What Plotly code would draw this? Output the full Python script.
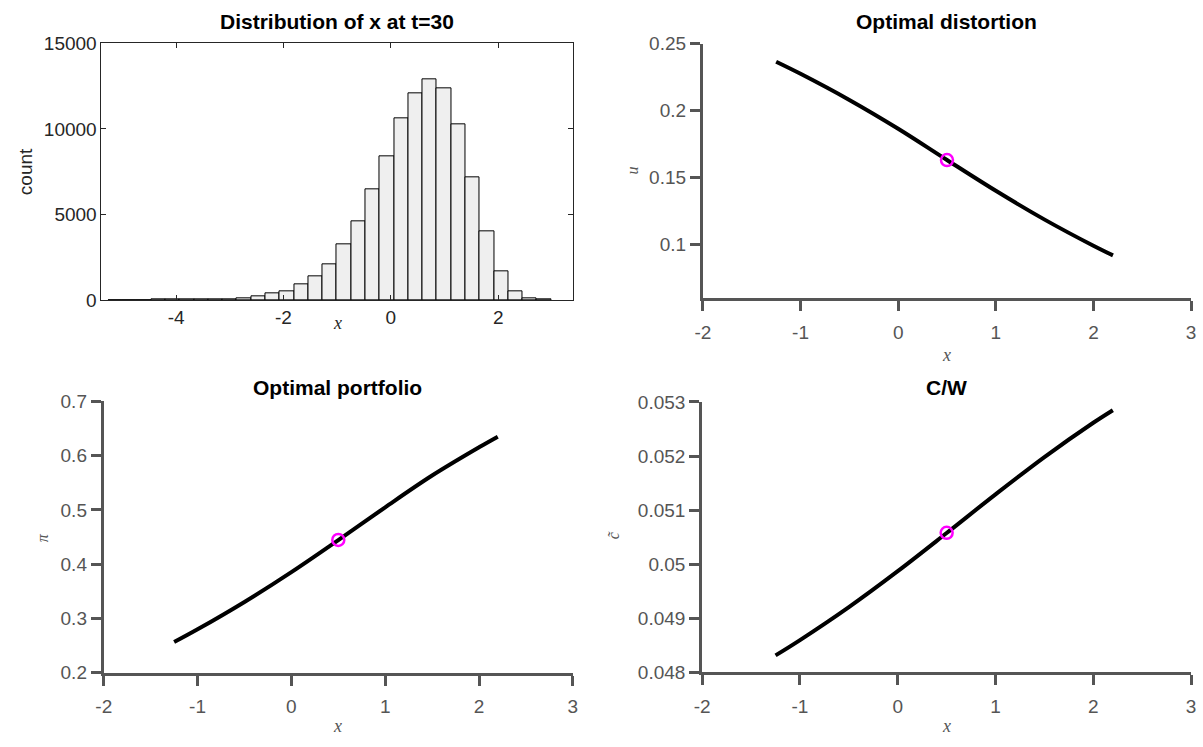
import plotly.graph_objects as go

# ---------------- data ----------------
# histogram of x at t=30 (31 bins)
bin_left = -5.263
bin_width = 0.2661
hist_counts = [1, 2, 3, 5, 8, 15, 25, 40, 57, 114, 227, 358, 528, 909, 1364,
               2080, 3236, 4580, 6477, 8369, 10625, 12063, 12915, 12347, 10264,
               7176, 4034, 1665, 511, 114, 15]
hist_yticks = [0, 5000, 10000, 15000]
hist_xticks = [-4, -2, 0, 2]

# policy functions on the x grid
x_grid = [-1.25, -1.0, -0.5, 0.0, 0.5, 1.0, 1.5, 2.0, 2.2]
u_vals = [0.2366, 0.2276, 0.2081, 0.1866, 0.1633, 0.1403, 0.1188, 0.0993, 0.0921]
pi_vals = [0.2563, 0.2798, 0.3303, 0.3853, 0.4443, 0.5048, 0.5633, 0.6153, 0.6349]
c_vals = [0.048313, 0.048596, 0.049206, 0.049871, 0.050576, 0.051291, 0.051981, 0.052616, 0.052848]

# current state marker
x_star = 0.5
u_star = 0.1632
pi_star = 0.4447
c_star = 0.05058

curve_xticks = [-2, -1, 0, 1, 2, 3]
u_ticks = [0.1, 0.15, 0.2, 0.25]
pi_ticks = [0.2, 0.3, 0.4, 0.5, 0.6, 0.7]
c_ticks = [0.048, 0.049, 0.05, 0.051, 0.052, 0.053]

W, H = 1203, 747


def px(xp):
    return xp / W


def py(yp):
    return 1 - yp / H


def lab(v):
    return ("%g" % v)


hist_centers = [bin_left + (i + 0.5) * bin_width for i in range(len(hist_counts))]

fig = go.Figure()

# ---------- histogram ----------
fig.add_trace(go.Bar(x=hist_centers, y=hist_counts, width=bin_width,
                     marker=dict(color="#efefef", line=dict(color="#000000", width=1)),
                     xaxis="x", yaxis="y", showlegend=False))

# ---------- curves ----------
line_style = dict(color="black", width=4, shape="spline")
mk = dict(symbol="circle-open", size=12, color="#ff00ff", line=dict(width=2.5, color="#ff00ff"))

fig.add_trace(go.Scatter(x=x_grid, y=u_vals, mode="lines", line=line_style,
                         xaxis="x2", yaxis="y2", showlegend=False))
fig.add_trace(go.Scatter(x=[x_star], y=[u_star], mode="markers", marker=mk,
                         xaxis="x2", yaxis="y2", showlegend=False))

fig.add_trace(go.Scatter(x=x_grid, y=pi_vals, mode="lines", line=line_style,
                         xaxis="x3", yaxis="y3", showlegend=False))
fig.add_trace(go.Scatter(x=[x_star], y=[pi_star], mode="markers", marker=mk,
                         xaxis="x3", yaxis="y3", showlegend=False))

fig.add_trace(go.Scatter(x=x_grid, y=c_vals, mode="lines", line=line_style,
                         xaxis="x4", yaxis="y4", showlegend=False))
fig.add_trace(go.Scatter(x=[x_star], y=[c_star], mode="markers", marker=mk,
                         xaxis="x4", yaxis="y4", showlegend=False))

TICKFONT = dict(family="Liberation Sans, Arial, sans-serif", size=19, color="#555555")
HFONT = dict(family="Liberation Sans, Arial, sans-serif", size=19, color="#262626")

box_axis = dict(showline=True, linecolor="#262626", linewidth=1, mirror="ticks",
                ticks="inside", ticklen=5, tickwidth=1, tickcolor="#262626",
                showgrid=False, zeroline=False, tickfont=HFONT)

thick_axis = dict(showline=True, linecolor="#555555", linewidth=3, mirror=False,
                  ticks="outside", ticklen=10, tickwidth=3, tickcolor="#555555",
                  showgrid=False, zeroline=False, tickfont=TICKFONT)

fig.update_layout(
    width=W, height=H, autosize=False,
    margin=dict(l=0, r=0, t=0, b=0),
    paper_bgcolor="white", plot_bgcolor="white",
    bargap=0,
    xaxis=dict(domain=[px(94.5), px(571)], anchor="y", range=[-5.39, 3.39],
               tickvals=hist_xticks, ticktext=[lab(v) for v in hist_xticks], **box_axis),
    yaxis=dict(domain=[py(298.3), py(34.3)], anchor="x", range=[0, 15000],
               tickvals=hist_yticks, ticktext=[lab(v) for v in hist_yticks], **box_axis),
    xaxis2=dict(domain=[px(702.5), px(1196)], anchor="y2", range=[-2, 3],
                tickvals=curve_xticks, ticktext=[lab(v) for v in curve_xticks],
                ticklabelstandoff=5, **thick_axis),
    yaxis2=dict(domain=[py(296.8), py(34.7)], anchor="x2", range=[0.06, 0.25],
                tickvals=u_ticks, ticktext=[lab(v) for v in u_ticks], **thick_axis),
    xaxis3=dict(domain=[px(96.8), px(571)], anchor="y3", range=[-2, 3],
                tickvals=curve_xticks, ticktext=[lab(v) for v in curve_xticks],
                ticklabelstandoff=5, **thick_axis),
    yaxis3=dict(domain=[py(681.8), py(402.7)], anchor="x3", range=[0.2, 0.7],
                tickvals=pi_ticks, ticktext=[lab(v) for v in pi_ticks], **thick_axis),
    xaxis4=dict(domain=[px(701.8), px(1196)], anchor="y4", range=[-2, 3],
                tickvals=curve_xticks, ticktext=[lab(v) for v in curve_xticks],
                ticklabelstandoff=5, **thick_axis),
    yaxis4=dict(domain=[py(681.5), py(403.3)], anchor="x4", range=[0.048, 0.053],
                tickvals=c_ticks, ticktext=[lab(v) for v in c_ticks], **thick_axis),
)

TFONT = dict(family="Liberation Sans, Arial, sans-serif", size=21, color="black")
MATH = dict(family="Liberation Serif, DejaVu Serif, serif", size=18, color="#555555")

ann = []
# titles
for txt, xc, yc in [("Distribution of x at t=30", 332.7, 12),
                    ("Optimal distortion", 948.5, 12),
                    ("Optimal portfolio", 333, 388),
                    ("C/W", 948.5, 388)]:
    ann.append(dict(text="<b>" + txt + "</b>", x=px(xc), y=py(yc), xref="paper", yref="paper",
                    xanchor="center", yanchor="middle", showarrow=False, font=TFONT))
# x labels
for xc, yc, col in [(332.7, 322, "#262626"), (948.5, 355, "#555555"),
                    (333, 737, "#555555"), (948.5, 737, "#555555")]:
    ann.append(dict(text="<i>x</i>", x=px(xc), y=py(yc), xref="paper", yref="paper",
                    xanchor="center", yanchor="middle", showarrow=False,
                    font=dict(MATH, color=col)))
# y labels
ann.append(dict(text="count", x=px(18), y=py(166), xref="paper", yref="paper",
                xanchor="center", yanchor="middle", showarrow=False, textangle=-90, font=HFONT))
for txt, xc, yc in [("<i>u</i>", 631, 165), ("<i>π</i>", 35, 543), ("<i>c̃</i>", 612, 540)]:
    ann.append(dict(text=txt, x=px(xc), y=py(yc), xref="paper", yref="paper",
                    xanchor="center", yanchor="middle", showarrow=False, textangle=-90,
                    font=dict(MATH, size=16)))
fig.update_layout(annotations=ann)

fig.write_html("out.html")
